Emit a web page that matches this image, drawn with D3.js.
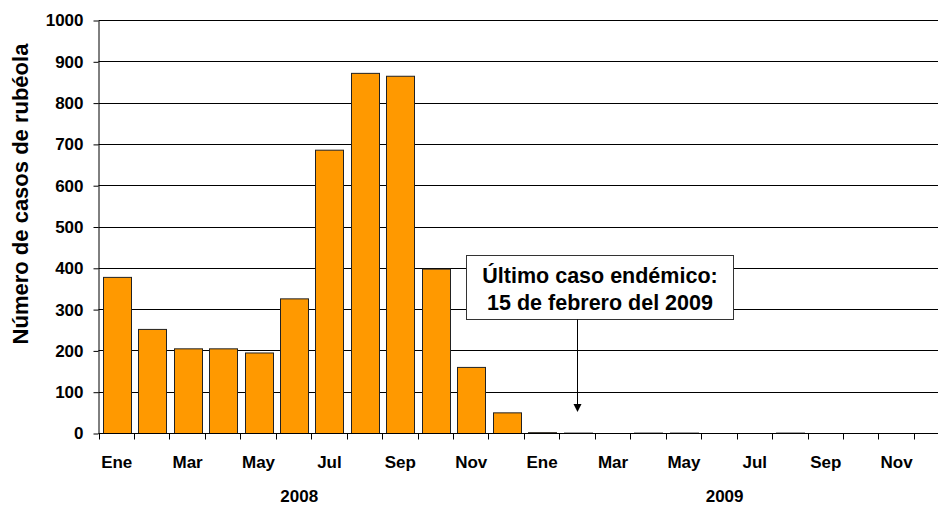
<!DOCTYPE html>
<html>
<head>
<meta charset="utf-8">
<script src="https://cdn.jsdelivr.net/npm/d3@7"></script>
<style>
  html, body { margin: 0; padding: 0; background: #fff; }
  svg { display: block; }
  text { font-family: "Liberation Sans", Arial, sans-serif; font-weight: bold; fill: #000; }
</style>
</head>
<body>
<svg id="chart" width="938" height="506"></svg>
<script>
// ---- data ----
const months = ["Ene","Feb","Mar","Abr","May","Jun","Jul","Ago","Sep","Oct","Nov","Dic"];
const years = ["2008", "2009"];
const cases2008 = [378, 252, 205, 205, 195, 326, 686, 872, 865, 398, 160, 50];
const cases2009 = [2, 1, 0, 1, 1, 0, 0, 1, 0, 0, 0, 0];
const yTicks = [0, 100, 200, 300, 400, 500, 600, 700, 800, 900, 1000];
const yTitle = "Número de casos de rubéola";
const noteLines = ["Último caso endémico:", "15 de febrero del 2009"];
const noteMonth = "2009-Feb";

const data = [];
years.forEach((yr, yi) => {
  const vals = yi === 0 ? cases2008 : cases2009;
  months.forEach((m, mi) => data.push({ key: yr + "-" + m, month: m, year: yr, idx: yi * 12 + mi, value: vals[mi] }));
});

// ---- layout ----
const svg = d3.select("#chart");
const plotLeft = 98.5, plotBottom = 433.5, plotTop = 20.5;
const step = 35.45;
const x = d3.scaleBand()
  .domain(data.map(d => d.key))
  .range([plotLeft + 0.5, plotLeft + 0.5 + step * data.length])
  .paddingInner(0.21)
  .paddingOuter(0.105);
const y = d3.scaleLinear().domain([0, 1000]).range([plotBottom, plotTop]);
const boundary = i => x.range()[0] + x.step() * i;
const snap = v => Math.round(v - 0.5) + 0.5;
const plotRight = x.range()[1];

// gridlines
svg.append("g").selectAll("line")
  .data(yTicks.filter(t => t > 0))
  .join("line")
  .attr("x1", plotLeft).attr("x2", plotRight)
  .attr("y1", d => snap(y(d))).attr("y2", d => snap(y(d)))
  .attr("stroke", "#000").attr("stroke-width", 1);

// bars
svg.append("g").selectAll("rect")
  .data(data.filter(d => d.value > 0))
  .join("rect")
  .attr("x", d => Math.round(x(d.key)) + 0.5)
  .attr("width", Math.round(x.bandwidth()))
  .attr("y", d => y(d.value))
  .attr("height", d => plotBottom - y(d.value))
  .attr("fill", "#FF9900")
  .attr("stroke", "#222")
  .attr("stroke-width", 1);

// y axis
const yAxis = d3.axisLeft(y).tickValues(yTicks).tickFormat(d3.format("d"))
  .tickSize(5).tickSizeOuter(0).tickPadding(10);
const gy = svg.append("g").attr("transform", `translate(${plotLeft},0)`).call(yAxis);
gy.select(".domain").attr("stroke", "#000");
gy.selectAll(".tick line").attr("stroke", "#000");
gy.selectAll(".tick text").style("font-size", "17px").style("font-family", '"Liberation Sans", Arial, sans-serif').style("font-weight", "bold").attr("fill", "#000");

// x axis line
svg.append("line")
  .attr("x1", plotLeft).attr("x2", plotRight)
  .attr("y1", plotBottom).attr("y2", plotBottom)
  .attr("stroke", "#000").attr("stroke-width", 1);

// x ticks at band boundaries
svg.append("g").selectAll("line")
  .data(d3.range(data.length + 1))
  .join("line")
  .attr("x1", i => snap(boundary(i))).attr("x2", i => snap(boundary(i)))
  .attr("y1", plotBottom).attr("y2", plotBottom + 6)
  .attr("stroke", "#000");

// month labels (every other)
svg.append("g").selectAll("text")
  .data(data.filter(d => d.idx % 2 === 0))
  .join("text")
  .attr("x", d => x(d.key) + x.bandwidth() / 2)
  .attr("y", 467.5)
  .attr("text-anchor", "middle")
  .style("font-size", "17px")
  .text(d => d.month);

// year labels
svg.append("g").selectAll("text")
  .data(years)
  .join("text")
  .attr("x", (d, i) => boundary(i * 12 + 6) - 12.5)
  .attr("y", 502)
  .attr("text-anchor", "middle")
  .style("font-size", "17px")
  .text(d => d);

// y title
svg.append("text")
  .attr("transform", `translate(27.5,${(plotTop + plotBottom) / 2 - 33}) rotate(-90)`)
  .attr("text-anchor", "middle")
  .style("font-size", "22px")
  .text(yTitle);

// annotation
const ax = x(noteMonth) + x.bandwidth() / 2;
const boxX1 = 466.5, boxX2 = 733.5;
const boxTop = snap(y(430)), boxBot = snap(y(275));
const g = svg.append("g");
g.append("rect")
  .attr("x", boxX1).attr("y", boxTop)
  .attr("width", boxX2 - boxX1).attr("height", boxBot - boxTop)
  .attr("fill", "#fff").attr("stroke", "#333").attr("stroke-width", 1);
g.selectAll("text.note")
  .data(noteLines)
  .join("text")
  .attr("class", "note")
  .attr("x", (boxX1 + boxX2) / 2)
  .attr("y", (d, i) => boxTop + 27.5 + i * 27.3)
  .attr("text-anchor", "middle")
  .style("font-size", "21.5px")
  .text(d => d);
const tipY = y(52);
g.append("line")
  .attr("x1", snap(ax)).attr("x2", snap(ax))
  .attr("y1", boxBot).attr("y2", tipY - 6)
  .attr("stroke", "#000").attr("stroke-width", 1);
g.append("path")
  .attr("d", `M${snap(ax) - 4},${tipY - 8} L${snap(ax) + 4},${tipY - 8} L${snap(ax)},${tipY} Z`)
  .attr("fill", "#000");
</script>
</body>
</html>
